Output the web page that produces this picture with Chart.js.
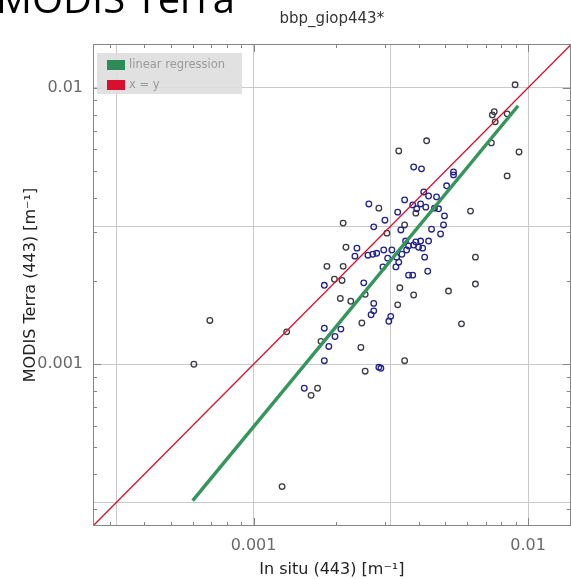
<!DOCTYPE html>
<html>
<head>
<meta charset="utf-8">
<script src="https://cdn.jsdelivr.net/npm/chart.js@4.4.0/dist/chart.umd.min.js"></script>
<style>
  html, body { margin: 0; padding: 0; background: #fff; overflow: hidden; }
  .page { position: relative; width: 571px; height: 579px; overflow: hidden; }
  .slide-title { position: absolute; left: -4px; top: -22px; font: 40px/40px 'Open Sans', sans-serif; color: #000; white-space: nowrap; }
  canvas { position: absolute; left: 0; top: 0; }
</style>
</head>
<body>
<div class="page">
  <canvas id="scatterChart" width="576" height="579"></canvas>
  <div class="slide-title">MODIS Terra</div>
</div>
<script>
// matchups, in situ bbp(443) vs MODIS Terra bbp_giop(443), [m^-1]
const inSituBlue = [0.00383, 0.00409, 0.00535, 0.00535, 0.00505, 0.00417, 0.00434, 0.00464, 0.00406, 0.00424,
  0.00472, 0.00263, 0.00355, 0.00380, 0.00393, 0.00456, 0.00335, 0.00496, 0.00301, 0.00274,
  0.00344, 0.00492, 0.00445, 0.00480, 0.00358, 0.00390, 0.00406, 0.00434, 0.00383, 0.00399,
  0.00367, 0.00413, 0.00361, 0.00319, 0.00238, 0.00234, 0.00261, 0.00272, 0.00281, 0.00298,
  0.00332, 0.00347, 0.00308, 0.00420, 0.00338, 0.00296, 0.00330, 0.00431, 0.00367, 0.00380,
  0.00181, 0.00252, 0.00274, 0.00274, 0.00268, 0.00316, 0.00311, 0.00181, 0.00208, 0.00198,
  0.00188, 0.00181, 0.00286, 0.00291, 0.00153];
const modisBlue = [0.00517, 0.00509, 0.00496, 0.00484, 0.00442, 0.00420, 0.00406, 0.00403, 0.00380, 0.00370,
  0.00365, 0.00380, 0.00393, 0.00377, 0.00365, 0.00367, 0.00355, 0.00344, 0.00332, 0.00314,
  0.00306, 0.00319, 0.00308, 0.00296, 0.00279, 0.00277, 0.00279, 0.00279, 0.00270, 0.00265,
  0.00268, 0.00263, 0.00259, 0.00259, 0.00263, 0.00246, 0.00248, 0.00250, 0.00252, 0.00259,
  0.00244, 0.00250, 0.00242, 0.00244, 0.00234, 0.00225, 0.00225, 0.00217, 0.00210, 0.00210,
  0.00193, 0.00197, 0.00166, 0.00156, 0.00151, 0.00149, 0.00143, 0.00135, 0.00134, 0.00126,
  0.00116, 0.00103, 0.000975, 0.000967, 0.000819];

const inSituDark = [0.00897, 0.00753, 0.00741, 0.00759, 0.00839, 0.00427, 0.00338, 0.00735, 0.00927, 0.00839,
  0.00617, 0.00286, 0.00390, 0.00212, 0.00355, 0.00306, 0.00217, 0.00643, 0.00185, 0.00212,
  0.00197, 0.00210, 0.00643, 0.00513, 0.00341, 0.00207, 0.00226, 0.00255, 0.00383, 0.00335,
  0.00248, 0.00572, 0.00176, 0.00246, 0.00355, 0.00255, 0.00171, 0.00162, 0.00127, 0.00132,
  0.000606, 0.000693];
const modisDark = [0.01025, 0.00819, 0.00798, 0.00753, 0.00805, 0.00643, 0.00591, 0.00632, 0.00586, 0.00480,
  0.00358, 0.00367, 0.00352, 0.00324, 0.00319, 0.00298, 0.00265, 0.00244, 0.00226, 0.00226,
  0.00203, 0.00201, 0.00195, 0.00184, 0.00189, 0.00173, 0.00169, 0.00179, 0.00178, 0.00164,
  0.00141, 0.00140, 0.00121, 0.00115, 0.00103, 0.000944, 0.000819, 0.000772, 0.000361, 0.00131,
  0.00100, 0.00144];

const regressionX = [0.0006, 0.0092];
const regressionY = [0.000321, 0.00861];
const identityLine = [0.0002, 0.02];

const axisMin = 0.00026;
const axisMaxX = 0.0143;
const axisMaxY = 0.0144;
const gridValues = [0.000316, 0.001, 0.00316, 0.01];
const tickLabels = ['', '0.001', '', '0.01'];
const majorTicks = [0.001, 0.01];
const minorTicks = [0.0003, 0.0004, 0.0005, 0.0006, 0.0007, 0.0008, 0.0009,
  0.002, 0.003, 0.004, 0.005, 0.006, 0.007, 0.008, 0.009];
const legendLabels = ['linear regression', 'x = y'];

const toPoints = (xs, ys) => xs.map((x, i) => ({ x, y: ys[i] }));

class MatchupChart {
  constructor() {
    Chart.defaults.font.family = "'DejaVu Sans', sans-serif";
    this.initializeChart();
  }

  axisOptions(max, titleText, titlePadding, fitSize) {
    return {
      type: 'logarithmic',
      min: axisMin,
      max: max,
      afterBuildTicks: scale => {
        scale.ticks = gridValues.map(value => ({ value }));
      },
      afterFit: fitSize,
      border: { display: false },
      grid: { color: '#c9c9c9', lineWidth: 1, drawTicks: false },
      ticks: {
        autoSkip: false,
        maxRotation: 0,
        padding: 10,
        color: '#6a6a6a',
        font: { size: 16 },
        callback: (value, index) => tickLabels[index]
      },
      title: {
        display: true,
        text: titleText,
        color: '#222',
        font: { size: 16 },
        padding: titlePadding
      }
    };
  }

  framePlugin() {
    return {
      id: 'frameTicks',
      afterDatasetsDraw(chart) {
        const { ctx, chartArea: a, scales: { x, y } } = chart;
        ctx.save();
        ctx.strokeStyle = '#858585';
        ctx.lineWidth = 1;
        ctx.beginPath();
        const mark = (values, len) => {
          values.forEach(v => {
            const px = Math.round(x.getPixelForValue(v)) + 0.5;
            ctx.moveTo(px, a.bottom); ctx.lineTo(px, a.bottom - len);
            ctx.moveTo(px, a.top); ctx.lineTo(px, a.top + len);
            const py = Math.round(y.getPixelForValue(v)) + 0.5;
            ctx.moveTo(a.left, py); ctx.lineTo(a.left + len, py);
            ctx.moveTo(a.right, py); ctx.lineTo(a.right - len, py);
          });
        };
        mark(majorTicks, 8);
        mark(minorTicks, 4);
        ctx.stroke();
        ctx.strokeRect(Math.round(a.left) + 0.5, Math.round(a.top) + 0.5,
          Math.round(a.width) - 1, Math.round(a.height) - 1);
        ctx.restore();
      }
    };
  }

  legendPlugin() {
    return {
      id: 'boxLegend',
      afterDraw(chart) {
        const { ctx, chartArea: a } = chart;
        const colors = ['#2e8b57', '#d8102e'];
        ctx.save();
        ctx.fillStyle = 'rgba(222, 222, 222, 0.9)';
        ctx.fillRect(a.left + 4, a.top + 9, 145, 41);
        ctx.font = "11.5px 'DejaVu Sans', sans-serif";
        ctx.textBaseline = 'middle';
        legendLabels.forEach((label, i) => {
          const cy = a.top + 21 + i * 20;
          ctx.fillStyle = colors[i];
          ctx.fillRect(a.left + 14, cy - 5, 18, 10);
          ctx.fillStyle = '#9a9a9a';
          ctx.fillText(label, a.left + 36, cy);
        });
        ctx.restore();
      }
    };
  }

  initializeChart() {
    const ctx = document.getElementById('scatterChart').getContext('2d');
    this.chart = new Chart(ctx, {
      type: 'scatter',
      data: {
        datasets: [
          {
            label: 'x = y',
            data: toPoints(identityLine, identityLine),
            showLine: true,
            borderColor: '#d8102e',
            borderWidth: 1.3,
            pointRadius: 0
          },
          {
            label: 'linear regression',
            data: toPoints(regressionX, regressionY),
            showLine: true,
            borderColor: '#35955c',
            borderWidth: 3.5,
            pointRadius: 0
          },
          {
            label: 'matchups',
            data: toPoints(inSituBlue, modisBlue),
            pointStyle: 'circle',
            pointRadius: 2.8,
            pointBorderWidth: 1.3,
            pointBorderColor: '#23238a',
            pointBackgroundColor: 'rgba(0,0,0,0)'
          },
          {
            label: 'matchups (other)',
            data: toPoints(inSituDark, modisDark),
            pointStyle: 'circle',
            pointRadius: 2.8,
            pointBorderWidth: 1.3,
            pointBorderColor: '#3a3a42',
            pointBackgroundColor: 'rgba(0,0,0,0)'
          }
        ]
      },
      options: {
        responsive: false,
        animation: false,
        layout: { padding: { left: 0, right: 3, top: 0, bottom: 0 } },
        plugins: {
          legend: { display: false },
          tooltip: { enabled: false },
          title: {
            display: true,
            fullSize: false,
            text: 'bbp_giop443*',
            color: '#333',
            font: { size: 15, weight: 'normal', lineHeight: 1.2 },
            padding: { top: 10, bottom: 16 }
          }
        },
        scales: {
          x: this.axisOptions(axisMaxX, 'In situ (443) [m\u207B\u00B9]', { top: 0, bottom: 0 },
            scale => { scale.height = 53; }),
          y: this.axisOptions(axisMaxY, 'MODIS Terra (443) [m\u207B\u00B9]', { top: 21, bottom: 0 },
            scale => { scale.width = 93; })
        }
      },
      plugins: [this.framePlugin(), this.legendPlugin()]
    });
  }
}

window.matchupChart = new MatchupChart();
</script>
</body>
</html>
